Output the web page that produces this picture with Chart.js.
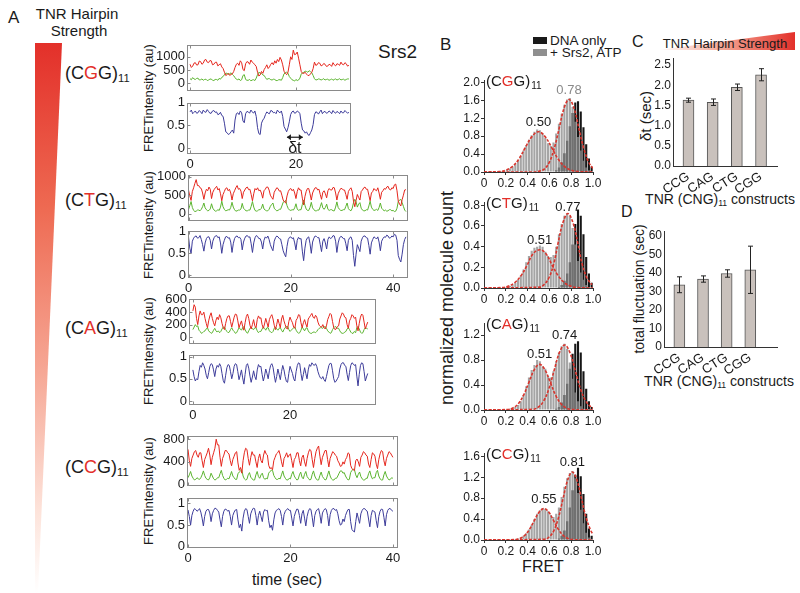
<!DOCTYPE html>
<html>
<head>
<meta charset="utf-8">
<script src="https://cdn.jsdelivr.net/npm/chart.js@4.4.0/dist/chart.umd.min.js"></script>
<style>
body { margin: 0; width: 800px; height: 593px; background: #fff; position: relative; overflow: hidden;
  font-family: "Liberation Sans", Arial, Helvetica, sans-serif; color: #1a1a1a; }
canvas { position: absolute; }
.lbl { position: absolute; white-space: nowrap; line-height: 1; }
.ctr { transform: translate(-50%, -50%); }
.rot { transform: translate(-50%, -50%) rotate(-90deg); }
.r { color: #e3302a; }
.sub { font-size: 0.62em; vertical-align: -0.25em; }
#wedgeA { position: absolute; left: 35px; top: 43px; width: 27px; height: 550px;
  clip-path: polygon(0 0, 100% 0, 11% 100%, 0 100%);
  background: linear-gradient(to bottom, #e3302a 0%, #ee6a52 30%, #f6a896 60%, #fde3da 85%, #ffffff 100%); }
#wedgeC { position: absolute; left: 658px; top: 32px; width: 137px; height: 18px;
  clip-path: polygon(0 100%, 100% 0, 100% 100%);
  background: linear-gradient(to right, #ffffff, #f3a08e 50%, #e3302a); }
.sw { position: absolute; width: 14px; height: 7px; }
</style>
</head>
<body>
<!-- panel A -->
<div class="lbl" style="left:8px;top:9px;font-size:17px">A</div>
<div class="lbl ctr" style="left:77px;top:13px;font-size:15px">TNR Hairpin</div>
<div class="lbl ctr" style="left:79px;top:30px;font-size:15px">Strength</div>
<div id="wedgeA"></div>
<div class="lbl" style="left:65px;top:64px;font-size:18px">(C<span class="r">G</span>G)<span class="sub">11</span></div>
<div class="lbl" style="left:65px;top:191px;font-size:18px">(C<span class="r">T</span>G)<span class="sub">11</span></div>
<div class="lbl" style="left:65px;top:319px;font-size:18px">(C<span class="r">A</span>G)<span class="sub">11</span></div>
<div class="lbl" style="left:65px;top:458px;font-size:18px">(C<span class="r">C</span>G)<span class="sub">11</span></div>
<div class="lbl" style="left:378px;top:42px;font-size:19px">Srs2</div>
<div class="lbl rot" style="left:148px;top:98px;font-size:13px">FRETintensity (au)</div>
<div class="lbl rot" style="left:148px;top:225px;font-size:13px">FRETintensity (au)</div>
<div class="lbl rot" style="left:148px;top:351px;font-size:13px">FRETintensity (au)</div>
<div class="lbl rot" style="left:148px;top:491px;font-size:13px">FRETintensity (au)</div>
<div class="lbl ctr" style="left:287px;top:580px;font-size:16px">time (sec)</div>

<!-- panel B -->
<div class="lbl" style="left:440px;top:36px;font-size:17px">B</div>
<div class="sw" style="left:533px;top:37px;background:#1a1a1a"></div>
<div class="lbl" style="left:550px;top:34px;font-size:13.5px">DNA only</div>
<div class="sw" style="left:533px;top:49px;background:#8f8f8f"></div>
<div class="lbl" style="left:550px;top:46px;font-size:13.5px">+ Srs2, ATP</div>
<div class="lbl rot" style="left:447px;top:298px;font-size:18px">normalized molecule count</div>
<div class="lbl ctr" style="left:543px;top:567px;font-size:16px">FRET</div>

<!-- panel C / D -->
<div class="lbl" style="left:632px;top:34px;font-size:16px">C</div>
<div id="wedgeC"></div>
<div class="lbl ctr" style="left:725px;top:43px;font-size:13px">TNR Hairpin Strength</div>
<div class="lbl rot" style="left:645px;top:116px;font-size:15px">&delta;t (sec)</div>
<div class="lbl ctr" style="left:720px;top:200px;font-size:14px">TNR (CNG)<span class="sub">11</span> constructs</div>
<div class="lbl" style="left:621px;top:204px;font-size:16px">D</div>
<div class="lbl rot" style="left:639px;top:289px;font-size:14px">total fluctuation (sec)</div>
<div class="lbl ctr" style="left:719px;top:382px;font-size:14px">TNR (CNG)<span class="sub">11</span> constructs</div>

<script>
// ---- data: single-molecule traces (one sample every 0.25 s) ----
const SAMPLE_DT = 0.25;

const redCGG = [720, 600, 650, 760, 780, 690, 700, 840, 820, 720, 760, 880, 900, 800, 780, 860, 850, 700, 720, 790,
  800, 660, 700, 740, 620, 560, 420, 300, 330, 380, 300, 340, 360, 450, 600, 720, 760, 680, 850, 780,
  520, 480, 740, 820, 800, 720, 880, 800, 760, 700, 640, 420, 280, 320, 450, 380, 520, 600, 700, 560,
  620, 720, 780, 700, 850, 760, 900, 820, 980, 880, 700, 460, 380, 330, 420, 700, 1000, 900, 1250, 1080,
  1100, 1180, 950, 700, 450, 380, 380, 420, 350, 300, 300, 360, 420, 560, 800, 680, 700, 780, 760, 660,
  680, 750, 720, 640, 650, 720, 700, 640, 780, 700, 660, 740, 720, 680, 800, 720, 700, 780, 740, 650, 680];
const greenCGG = [180, 140, 220, 170, 150, 190, 200, 130, 140, 170, 120, 150, 160, 110, 130, 160, 170, 120, 110, 150,
  150, 120, 190, 160, 230, 260, 330, 390, 380, 340, 360, 400, 340, 290, 220, 160, 140, 170, 110, 140,
  300, 330, 150, 120, 120, 150, 100, 130, 140, 110, 200, 330, 420, 390, 380, 320, 300, 220, 150, 180,
  180, 140, 130, 160, 150, 110, 110, 140, 140, 120, 220, 360, 400, 430, 380, 260, 200, 140, 120, 90,
  150, 110, 130, 200, 350, 400, 420, 460, 450, 420, 480, 440, 400, 300, 180, 130, 140, 170, 160, 130,
  150, 180, 130, 150, 160, 120, 140, 170, 120, 150, 170, 130, 150, 180, 130, 150, 160, 120, 150, 170, 170];
const fretCGG = [0.80, 0.84, 0.76, 0.79, 0.82, 0.77, 0.78, 0.83, 0.80, 0.76, 0.84, 0.80, 0.79, 0.85, 0.81, 0.77, 0.77, 0.82, 0.83, 0.79,
  0.80, 0.74, 0.75, 0.79, 0.72, 0.70, 0.55, 0.36, 0.34, 0.30, 0.32, 0.36, 0.40, 0.33, 0.62, 0.76, 0.78, 0.74, 0.82, 0.78,
  0.60, 0.56, 0.76, 0.81, 0.80, 0.77, 0.84, 0.80, 0.77, 0.82, 0.70, 0.45, 0.32, 0.30, 0.55, 0.62, 0.66, 0.74, 0.80, 0.77,
  0.76, 0.83, 0.82, 0.78, 0.79, 0.76, 0.84, 0.80, 0.78, 0.82, 0.70, 0.48, 0.42, 0.36, 0.45, 0.58, 0.74, 0.80, 0.82, 0.77,
  0.78, 0.82, 0.80, 0.76, 0.55, 0.40, 0.38, 0.33, 0.36, 0.30, 0.28, 0.34, 0.40, 0.52, 0.74, 0.80, 0.79, 0.75, 0.80, 0.84,
  0.76, 0.80, 0.81, 0.77, 0.78, 0.82, 0.80, 0.76, 0.83, 0.79, 0.77, 0.81, 0.79, 0.76, 0.82, 0.78, 0.78, 0.83, 0.80, 0.77, 0.79];

const redCTG = [640, 480, 360, 600, 700, 820, 920, 760, 760, 700, 680, 560, 390, 560, 660, 620, 720, 660, 410, 580,
  650, 700, 740, 640, 680, 540, 350, 520, 600, 680, 700, 620, 660, 560, 370, 540, 620, 700, 760, 660,
  680, 610, 410, 580, 640, 700, 720, 650, 660, 520, 350, 540, 680, 640, 700, 620, 640, 560, 420, 620,
  660, 720, 720, 640, 500, 440, 390, 580, 640, 700, 680, 610, 620, 500, 370, 320, 290, 480, 600, 660,
  680, 620, 660, 560, 410, 600, 700, 640, 640, 420, 240, 460, 600, 680, 680, 540, 370, 560, 640, 700,
  700, 640, 660, 520, 390, 580, 620, 540, 430, 620, 680, 640, 640, 710, 700, 560, 370, 540, 620, 680,
  680, 640, 640, 520, 390, 600, 660, 700, 600, 340, 190, 360, 520, 440, 370, 600, 640, 700, 720, 660,
  660, 500, 350, 560, 600, 680, 640, 620, 700, 560, 390, 580, 620, 680, 660, 720, 740, 660, 640, 700,
  680, 780, 800, 620, 340, 260, 210, 380, 500, 640, 650];
const greenCTG = [110, 220, 330, 170, 90, 60, 70, 100, 100, 80, 120, 190, 290, 160, 110, 80, 90, 130, 270, 150,
  100, 70, 80, 110, 90, 180, 340, 190, 120, 80, 90, 110, 100, 170, 310, 180, 110, 70, 80, 100,
  100, 130, 280, 150, 110, 80, 80, 100, 100, 200, 330, 180, 90, 70, 80, 110, 110, 150, 260, 130,
  100, 80, 80, 120, 200, 250, 290, 150, 110, 80, 90, 120, 120, 210, 310, 330, 360, 220, 140, 100,
  90, 110, 100, 160, 270, 130, 90, 110, 110, 250, 370, 230, 130, 90, 90, 170, 310, 160, 110, 80,
  80, 100, 100, 190, 300, 160, 120, 170, 260, 120, 90, 110, 110, 80, 80, 180, 320, 170, 120, 90,
  90, 110, 110, 200, 290, 140, 100, 80, 150, 300, 390, 320, 180, 260, 300, 150, 100, 80, 80, 110,
  100, 210, 340, 180, 120, 90, 100, 120, 90, 170, 290, 150, 110, 80, 100, 70, 80, 110, 110, 80,
  90, 60, 70, 150, 330, 370, 390, 300, 200, 100, 60];
const fretCTG = [0.88, 0.62, 0.50, 0.78, 0.85, 0.89, 0.90, 0.85, 0.86, 0.91, 0.82, 0.70, 0.55, 0.74, 0.84, 0.88, 0.88, 0.80, 0.60, 0.78,
  0.86, 0.90, 0.91, 0.86, 0.88, 0.74, 0.50, 0.70, 0.80, 0.88, 0.89, 0.85, 0.86, 0.76, 0.52, 0.72, 0.84, 0.89, 0.90, 0.86,
  0.87, 0.82, 0.58, 0.76, 0.85, 0.90, 0.91, 0.87, 0.88, 0.72, 0.52, 0.74, 0.86, 0.91, 0.89, 0.84, 0.84, 0.76, 0.60, 0.80,
  0.88, 0.85, 0.90, 0.82, 0.70, 0.62, 0.56, 0.78, 0.86, 0.90, 0.88, 0.84, 0.83, 0.70, 0.56, 0.48, 0.42, 0.66, 0.82, 0.87,
  0.88, 0.84, 0.86, 0.74, 0.58, 0.80, 0.87, 0.83, 0.84, 0.55, 0.33, 0.62, 0.80, 0.86, 0.88, 0.72, 0.50, 0.76, 0.85, 0.90,
  0.89, 0.86, 0.86, 0.70, 0.54, 0.78, 0.84, 0.74, 0.60, 0.82, 0.88, 0.84, 0.86, 0.91, 0.90, 0.78, 0.52, 0.74, 0.85, 0.89,
  0.88, 0.84, 0.84, 0.72, 0.56, 0.80, 0.86, 0.88, 0.80, 0.45, 0.20, 0.48, 0.70, 0.62, 0.54, 0.78, 0.86, 0.90, 0.90, 0.86,
  0.85, 0.68, 0.48, 0.74, 0.82, 0.88, 0.86, 0.83, 0.88, 0.76, 0.56, 0.78, 0.84, 0.88, 0.87, 0.92, 0.90, 0.85, 0.86, 0.90,
  0.88, 0.94, 0.92, 0.80, 0.45, 0.36, 0.30, 0.48, 0.70, 0.82, 0.88];

const redCAG = [420, 520, 480, 300, 200, 340, 420, 360, 360, 400, 300, 220, 150, 260, 340, 390, 300, 230, 180, 270,
  320, 280, 360, 310, 220, 150, 120, 220, 300, 340, 340, 250, 160, 240, 320, 370, 360, 260, 150, 210,
  260, 170, 110, 230, 330, 370, 300, 190, 130, 200, 280, 180, 150, 280, 340, 300, 310, 200, 140, 210,
  300, 230, 160, 280, 330, 360, 290, 190, 120, 200, 290, 220, 150, 290, 350, 260, 200, 140, 130, 250,
  320, 270, 230, 160, 140, 270, 300, 360, 350, 230, 150, 230, 280, 210, 160, 290, 320, 350, 380, 320,
  300, 350, 320, 240, 190, 170, 160, 200, 150, 130, 180, 280, 330, 380, 360, 250, 150, 120, 130, 170,
  180, 290, 340, 390, 370, 320, 310, 200, 140, 260, 300, 360, 340, 300, 320, 180, 100, 220, 320, 370,
  350, 240, 130, 190, 240];
const greenCAG = [120, 160, 200, 170, 180, 110, 90, 60, 70, 90, 100, 130, 150, 100, 80, 60, 70, 110, 140, 100,
  80, 100, 70, 90, 130, 160, 160, 120, 90, 70, 80, 120, 150, 110, 90, 60, 70, 110, 150, 130,
  110, 150, 170, 120, 80, 60, 100, 140, 160, 130, 120, 150, 150, 100, 70, 90, 90, 130, 160, 140,
  110, 150, 150, 100, 80, 70, 90, 140, 160, 130, 110, 140, 150, 110, 80, 120, 150, 170, 170, 120,
  90, 110, 130, 150, 160, 110, 80, 60, 70, 110, 160, 130, 100, 140, 150, 100, 70, 60, 60, 80,
  80, 70, 90, 120, 140, 150, 150, 140, 160, 170, 140, 100, 80, 60, 70, 120, 150, 170, 160, 140,
  140, 100, 70, 60, 60, 80, 90, 130, 150, 120, 80, 60, 60, 90, 70, 150, 170, 130, 80, 60,
  70, 120, 150, 140, 130];
const fretCAG = [0.70, 0.55, 0.45, 0.50, 0.48, 0.66, 0.80, 0.76, 0.86, 0.80, 0.72, 0.58, 0.50, 0.64, 0.78, 0.84, 0.82, 0.70, 0.55, 0.72,
  0.80, 0.76, 0.84, 0.78, 0.62, 0.46, 0.40, 0.58, 0.75, 0.82, 0.80, 0.66, 0.50, 0.62, 0.78, 0.84, 0.82, 0.66, 0.48, 0.58,
  0.70, 0.52, 0.38, 0.60, 0.80, 0.84, 0.74, 0.56, 0.42, 0.54, 0.68, 0.55, 0.48, 0.70, 0.82, 0.77, 0.78, 0.60, 0.45, 0.56,
  0.72, 0.62, 0.50, 0.68, 0.80, 0.84, 0.76, 0.58, 0.42, 0.55, 0.72, 0.60, 0.48, 0.66, 0.80, 0.70, 0.55, 0.44, 0.42, 0.62,
  0.78, 0.70, 0.62, 0.50, 0.45, 0.66, 0.80, 0.86, 0.84, 0.62, 0.46, 0.60, 0.75, 0.62, 0.50, 0.70, 0.82, 0.78, 0.86, 0.82,
  0.80, 0.84, 0.78, 0.66, 0.58, 0.52, 0.50, 0.55, 0.48, 0.44, 0.55, 0.68, 0.80, 0.85, 0.84, 0.68, 0.50, 0.42, 0.45, 0.50,
  0.55, 0.72, 0.82, 0.86, 0.86, 0.80, 0.78, 0.60, 0.46, 0.64, 0.80, 0.86, 0.84, 0.80, 0.82, 0.56, 0.34, 0.60, 0.80, 0.86,
  0.84, 0.66, 0.45, 0.54, 0.62];

const redCCG = [620, 420, 320, 460, 520, 580, 600, 520, 480, 560, 560, 420, 300, 440, 500, 560, 640, 520, 350, 480,
  560, 640, 800, 700, 700, 480, 320, 460, 520, 600, 600, 560, 540, 420, 330, 440, 500, 560, 580, 380,
  250, 300, 200, 420, 560, 640, 620, 460, 340, 480, 580, 520, 520, 400, 300, 460, 540, 420, 380, 520,
  600, 540, 520, 340, 280, 300, 260, 420, 480, 540, 560, 600, 520, 400, 310, 460, 500, 560, 480, 520,
  540, 420, 300, 440, 480, 560, 560, 420, 330, 480, 520, 400, 320, 460, 560, 620, 600, 440, 300, 460,
  580, 640, 680, 500, 350, 480, 540, 600, 600, 440, 310, 460, 520, 580, 560, 520, 500, 420, 380, 320,
  330, 400, 360, 440, 480, 560, 540, 340, 280, 260, 250, 420, 450, 400, 320, 480, 520, 580, 560, 520,
  500, 360, 300, 440, 560, 540, 500, 360, 280, 440, 540, 600, 580, 420, 330, 460, 520, 580, 560, 520, 480];
const greenCCG = [120, 170, 230, 150, 110, 80, 90, 120, 100, 90, 120, 170, 240, 160, 110, 90, 80, 120, 200, 150,
  100, 80, 90, 120, 120, 190, 250, 160, 110, 80, 90, 110, 100, 160, 230, 150, 120, 90, 90, 190,
  220, 240, 260, 150, 100, 80, 90, 170, 210, 130, 100, 80, 80, 170, 230, 140, 110, 170, 200, 120,
  90, 110, 100, 200, 230, 250, 250, 160, 120, 90, 90, 110, 100, 170, 240, 150, 110, 80, 80, 110,
  100, 180, 230, 150, 110, 80, 90, 170, 220, 130, 100, 180, 230, 140, 110, 80, 90, 180, 240, 150,
  100, 80, 80, 160, 220, 140, 110, 80, 90, 170, 240, 150, 100, 80, 80, 110, 110, 150, 200, 240,
  240, 200, 210, 150, 110, 80, 90, 210, 250, 270, 260, 170, 120, 180, 220, 140, 100, 80, 80, 110,
  110, 190, 240, 150, 100, 120, 120, 210, 250, 150, 100, 80, 80, 170, 230, 150, 110, 80, 90, 120, 110];
const fretCCG = [0.85, 0.70, 0.50, 0.72, 0.82, 0.88, 0.86, 0.82, 0.84, 0.88, 0.80, 0.66, 0.48, 0.70, 0.82, 0.86, 0.86, 0.78, 0.58, 0.76,
  0.84, 0.89, 0.88, 0.84, 0.80, 0.62, 0.46, 0.70, 0.82, 0.87, 0.86, 0.82, 0.84, 0.70, 0.50, 0.72, 0.80, 0.85, 0.86, 0.62,
  0.44, 0.52, 0.36, 0.66, 0.82, 0.88, 0.86, 0.70, 0.54, 0.76, 0.84, 0.89, 0.88, 0.72, 0.50, 0.72, 0.82, 0.70, 0.58, 0.80,
  0.86, 0.83, 0.84, 0.60, 0.44, 0.50, 0.38, 0.62, 0.78, 0.84, 0.86, 0.88, 0.84, 0.70, 0.50, 0.74, 0.82, 0.86, 0.88, 0.84,
  0.84, 0.66, 0.48, 0.70, 0.80, 0.87, 0.86, 0.72, 0.54, 0.76, 0.84, 0.66, 0.48, 0.70, 0.82, 0.88, 0.86, 0.68, 0.46, 0.72,
  0.82, 0.86, 0.88, 0.74, 0.54, 0.78, 0.84, 0.88, 0.86, 0.72, 0.48, 0.74, 0.84, 0.88, 0.88, 0.84, 0.86, 0.76, 0.60, 0.50,
  0.52, 0.64, 0.58, 0.72, 0.80, 0.86, 0.86, 0.58, 0.40, 0.36, 0.34, 0.58, 0.78, 0.66, 0.54, 0.76, 0.84, 0.88, 0.88, 0.84,
  0.82, 0.64, 0.46, 0.72, 0.84, 0.82, 0.80, 0.60, 0.44, 0.70, 0.82, 0.87, 0.86, 0.68, 0.48, 0.74, 0.84, 0.88, 0.88, 0.84, 0.82];

const intTicksCGG = [0, 500, 1000];
const intTicksCTG = [0, 500, 1000];
const intTicksCAG = [0, 200, 400, 600];
const intTicksCCG = [0, 400, 800];
const fretTicks = [0, 0.5, 1];
const timeTicks = [0, 20, 40];

// ---- data: FRET histograms (bin width 0.025, centres 0.0125 ... 0.9875) ----
const binCenters = [0.0125, 0.0375, 0.0625, 0.0875, 0.1125, 0.1375, 0.1625, 0.1875, 0.2125, 0.2375,
  0.2625, 0.2875, 0.3125, 0.3375, 0.3625, 0.3875, 0.4125, 0.4375, 0.4625, 0.4875,
  0.5125, 0.5375, 0.5625, 0.5875, 0.6125, 0.6375, 0.6625, 0.6875, 0.7125, 0.7375,
  0.7625, 0.7875, 0.8125, 0.8375, 0.8625, 0.8875, 0.9125, 0.9375, 0.9625, 0.9875];

const srsCGG = [0, 0, 0, 0, 0, 0.01, 0.02, 0.03, 0.05, 0.08, 0.12, 0.18, 0.26, 0.36, 0.48, 0.60, 0.72, 0.82, 0.90, 0.95,
  0.93, 0.86, 0.76, 0.64, 0.58, 0.66, 0.86, 1.08, 1.30, 1.50, 1.62, 1.65, 1.45, 1.12, 0.78, 0.48, 0.25, 0.10, 0.04, 0.01];
const dnaCGG = [0, 0, 0, 0, 0, 0, 0, 0, 0, 0, 0, 0, 0, 0, 0, 0, 0, 0, 0, 0,
  0, 0, 0, 0, 0, 0.01, 0.04, 0.10, 0.22, 0.42, 0.70, 1.02, 1.32, 1.55, 1.58, 1.35, 1.00, 0.62, 0.30, 0.12];
const srsCTG = [0, 0, 0, 0, 0, 0, 0.005, 0.01, 0.015, 0.02, 0.03, 0.05, 0.08, 0.12, 0.18, 0.25, 0.31, 0.36, 0.39, 0.40,
  0.41, 0.40, 0.35, 0.31, 0.30, 0.32, 0.40, 0.52, 0.62, 0.70, 0.72, 0.70, 0.58, 0.42, 0.26, 0.15, 0.08, 0.03, 0.01, 0];
const dnaCTG = [0, 0, 0, 0, 0, 0, 0, 0, 0, 0, 0, 0, 0, 0, 0, 0, 0, 0, 0, 0,
  0, 0, 0, 0, 0, 0, 0, 0.01, 0.03, 0.07, 0.14, 0.25, 0.42, 0.62, 0.76, 0.70, 0.52, 0.30, 0.14, 0.05];
const srsCAG = [0, 0, 0, 0, 0, 0, 0, 0, 0.01, 0.02, 0.03, 0.05, 0.08, 0.14, 0.24, 0.38, 0.52, 0.64, 0.72, 0.80,
  0.78, 0.70, 0.66, 0.55, 0.52, 0.62, 0.78, 0.92, 1.02, 1.06, 0.98, 0.76, 0.50, 0.28, 0.14, 0.06, 0.02, 0.01, 0, 0];
const dnaCAG = [0, 0, 0, 0, 0, 0, 0, 0, 0, 0, 0, 0, 0, 0, 0, 0, 0, 0, 0, 0,
  0, 0, 0, 0, 0, 0, 0.02, 0.05, 0.12, 0.24, 0.42, 0.66, 0.90, 1.06, 1.10, 0.92, 0.62, 0.34, 0.14, 0.05];
const srsCCG = [0, 0, 0, 0, 0, 0, 0, 0, 0, 0, 0.01, 0.02, 0.03, 0.05, 0.08, 0.13, 0.20, 0.29, 0.40, 0.50,
  0.57, 0.61, 0.60, 0.55, 0.48, 0.44, 0.50, 0.62, 0.82, 1.02, 1.18, 1.28, 1.32, 1.18, 0.90, 0.58, 0.32, 0.14, 0.05, 0.01];
const dnaCCG = [0, 0, 0, 0, 0, 0, 0, 0, 0, 0, 0, 0, 0, 0, 0, 0, 0, 0, 0, 0,
  0, 0, 0, 0, 0, 0, 0, 0.03, 0.08, 0.18, 0.36, 0.62, 0.95, 1.25, 1.38, 1.22, 0.88, 0.50, 0.22, 0.08];

// gaussian fits: [FRET, count]
const fitCGGlow = [[0, 0], [0.14, 0.01], [0.20, 0.04], [0.26, 0.12], [0.32, 0.29], [0.38, 0.55], [0.44, 0.79], [0.50, 0.90],
  [0.56, 0.79], [0.62, 0.55], [0.68, 0.29], [0.74, 0.12], [0.80, 0.04], [0.86, 0.01], [1.0, 0]];
const fitCGGhigh = [[0, 0], [0.45, 0], [0.51, 0.02], [0.555, 0.07], [0.60, 0.22], [0.645, 0.53], [0.69, 0.98], [0.735, 1.43],
  [0.78, 1.62], [0.825, 1.43], [0.87, 0.98], [0.915, 0.53], [0.96, 0.22], [1.0, 0.08]];
const fitCTGlow = [[0, 0], [0.165, 0.004], [0.22, 0.016], [0.28, 0.05], [0.34, 0.12], [0.395, 0.22], [0.45, 0.33], [0.51, 0.37],
  [0.57, 0.33], [0.625, 0.22], [0.68, 0.12], [0.74, 0.05], [0.80, 0.016], [0.855, 0.004], [1.0, 0]];
const fitCTGhigh = [[0, 0], [0.51, 0.008], [0.55, 0.032], [0.595, 0.097], [0.64, 0.234], [0.68, 0.437], [0.725, 0.635], [0.77, 0.72],
  [0.815, 0.635], [0.86, 0.437], [0.90, 0.234], [0.945, 0.097], [0.99, 0.032]];
const fitCAGlow = [[0, 0], [0.216, 0.008], [0.265, 0.032], [0.314, 0.099], [0.363, 0.237], [0.412, 0.443], [0.461, 0.644], [0.51, 0.73],
  [0.559, 0.644], [0.608, 0.443], [0.657, 0.237], [0.706, 0.099], [0.755, 0.032], [0.804, 0.008], [1.0, 0]];
const fitCAGhigh = [[0, 0], [0.449, 0.011], [0.4975, 0.046], [0.546, 0.14], [0.5945, 0.338], [0.643, 0.631], [0.6915, 0.918], [0.74, 1.04],
  [0.7885, 0.918], [0.837, 0.631], [0.8855, 0.338], [0.934, 0.14], [0.9825, 0.046], [1.0, 0.03]];
const fitCCGlow = [[0, 0], [0.28, 0.007], [0.325, 0.026], [0.37, 0.081], [0.415, 0.195], [0.46, 0.364], [0.505, 0.53], [0.55, 0.60],
  [0.595, 0.53], [0.64, 0.364], [0.685, 0.195], [0.73, 0.081], [0.775, 0.026], [0.82, 0.007], [1.0, 0]];
const fitCCGhigh = [[0, 0], [0.555, 0.014], [0.5975, 0.057], [0.64, 0.176], [0.6825, 0.422], [0.725, 0.789], [0.7675, 1.147], [0.81, 1.30],
  [0.8525, 1.147], [0.895, 0.789], [0.9375, 0.422], [0.98, 0.176], [1.0, 0.11]];

const peaksCGG = [0.50, 0.78];
const peaksCTG = [0.51, 0.77];
const peaksCAG = [0.51, 0.74];
const peaksCCG = [0.55, 0.81];

const histXTicks = [0, 0.2, 0.4, 0.6, 0.8, 1.0];
const histYTicksCGG = [0, 0.4, 0.8, 1.2, 1.6, 2.0];
const histYTicksCTG = [0, 0.2, 0.4, 0.6, 0.8];
const histYTicksCAG = [0, 0.4, 0.8, 1.2];
const histYTicksCCG = [0, 0.4, 0.8, 1.2, 1.6];

// ---- data: bar panels C and D ----
const constructs = ['CCG', 'CAG', 'CTG', 'CGG'];
const dtMean = [1.63, 1.58, 1.95, 2.26];
const dtErr = [0.05, 0.08, 0.08, 0.15];
const dtTicks = [0, 0.5, 1.0, 1.5, 2.0, 2.5];
const flucMean = [33.7, 36.8, 39.8, 41.8];
const flucErr = [4.3, 1.7, 2.0, 12.8];
const flucTicks = [0, 10, 20, 30, 40, 50, 60];

// ---------------------------------------------------------------
const FONT = '"Liberation Sans", Arial, Helvetica, sans-serif';
Chart.defaults.font.family = FONT;
Chart.defaults.color = '#1a1a1a';

const RED = '#e5261d', GREEN = '#5bb42f', BLUE = '#3d3c9a', INK = '#1a1a1a';

// canvas is placed so the chart area lands on box (page pixels)
function makeChart(box, pad, axisW, axisH, config) {
  const c = document.createElement('canvas');
  const w = box.r - box.l + pad.l + axisW + pad.r;
  const h = box.b - box.t + pad.t + pad.b + axisH;
  c.width = w; c.height = h;
  c.style.width = w + 'px'; c.style.height = h + 'px';
  c.style.left = (box.l - pad.l - axisW) + 'px';
  c.style.top = (box.t - pad.t) + 'px';
  document.body.appendChild(c);
  const o = config.options;
  o.responsive = false;
  o.animation = false;
  o.devicePixelRatio = 1;
  o.layout = { autoPadding: false, padding: { left: pad.l, right: pad.r, top: pad.t, bottom: pad.b } };
  o.plugins = Object.assign({ legend: { display: false }, tooltip: { enabled: false } }, o.plugins || {});
  return new Chart(c, config);
}

const fixTicks = vals => s => { s.ticks = vals.map(v => ({ value: v })); };
const toPts = arr => arr.map((v, i) => ({ x: i * SAMPLE_DT, y: v }));
const pairPts = arr => arr.map(p => ({ x: p[0], y: p[1] }));

// grey box round the trace panels, with short inward tick marks
const framePlugin = {
  id: 'frame',
  afterDatasetsDraw(chart) {
    const a = chart.chartArea, ctx = chart.ctx;
    const L = Math.round(a.left) + 0.5, T = Math.round(a.top) + 0.5;
    const R = Math.round(a.right) - 0.5, B = Math.round(a.bottom) - 0.5;
    ctx.save();
    ctx.strokeStyle = '#8a8a8a';
    ctx.lineWidth = 1;
    ctx.strokeRect(L, T, R - L, B - T);
    ctx.beginPath();
    chart.scales.y.ticks.forEach(t => {
      const py = Math.round(chart.scales.y.getPixelForValue(t.value)) + 0.5;
      if (py > T + 1 && py < B - 1) { ctx.moveTo(L, py); ctx.lineTo(L + 3, py); }
    });
    const xs = chart.scales.x;
    timeTicks.forEach(v => {
      if (v <= xs.min || v >= xs.max) return;
      const px = Math.round(xs.getPixelForValue(v)) + 0.5;
      ctx.moveTo(px, T); ctx.lineTo(px, T + 3);
      ctx.moveTo(px, B); ctx.lineTo(px, B - 3);
    });
    ctx.stroke();
    ctx.restore();
  }
};

/*
 * panel A : traces
 */
const traceLayout = {
  CGG: { l: 187, r: 351, it: 43, ib: 97, ft: 101, fb: 154, x: [-0.57, 30.4], iy: [-290, 1450], fy: [-0.13, 1.0] },
  CTG: { l: 188, r: 408, it: 173, ib: 227, ft: 229, fb: 278, x: [-0.1, 42.9], iy: [-200, 1050], fy: [-0.07, 1.02] },
  CAG: { l: 189, r: 376, it: 297, ib: 350, ft: 353, fb: 405, x: [-0.8, 37.7], iy: [-115, 615], fy: [-0.09, 1.04] },
  CCG: { l: 187, r: 398, it: 434, ib: 492, ft: 496, fb: 548, x: [-0.2, 41], iy: [-30, 860], fy: [-0.03, 1.13] }
};

const deltaTPlugin = {
  id: 'deltaT',
  afterDraw(chart) {
    const { ctx, scales: { x, y } } = chart;
    const x1 = x.getPixelForValue(18.3), x2 = x.getPixelForValue(21.3), yy = y.getPixelForValue(0.24);
    ctx.save();
    ctx.strokeStyle = INK; ctx.fillStyle = INK; ctx.lineWidth = 1.2;
    ctx.beginPath(); ctx.moveTo(x1, yy); ctx.lineTo(x2, yy); ctx.stroke();
    [[x1, 1], [x2, -1]].forEach(([px, d]) => {
      ctx.beginPath(); ctx.moveTo(px, yy); ctx.lineTo(px + 4 * d, yy - 3); ctx.lineTo(px + 4 * d, yy + 3); ctx.closePath(); ctx.fill();
    });
    ctx.font = '16px ' + FONT; ctx.textAlign = 'center'; ctx.textBaseline = 'middle';
    ctx.fillText('\u03b4t', x.getPixelForValue(19.8), y.getPixelForValue(0.0));
    ctx.restore();
  }
};

function traceCharts(L, red, green, fret, intTicks, extra) {
  const tickFont = { size: 13 };
  const noGrid = { display: false, drawTicks: false };
  makeChart({ l: L.l, r: L.r, t: L.it, b: L.ib }, { l: 0, t: 8, r: 4, b: 4 }, 36, 0, {
    type: 'line',
    data: { datasets: [
      { data: toPts(red), borderColor: RED, borderWidth: 1, pointRadius: 0, tension: 0 },
      { data: toPts(green), borderColor: GREEN, borderWidth: 1, pointRadius: 0, tension: 0 }
    ] },
    options: {
      parsing: false,
      scales: {
        x: { type: 'linear', min: L.x[0], max: L.x[1], display: false },
        y: { min: L.iy[0], max: L.iy[1], afterFit: s => { s.width = 36; }, afterBuildTicks: fixTicks(intTicks),
          grid: noGrid, border: { display: false },
          ticks: { font: tickFont, padding: 2, autoSkip: false, callback: v => String(v) } }
      }
    },
    plugins: [framePlugin]
  });
  makeChart({ l: L.l, r: L.r, t: L.ft, b: L.fb }, { l: 0, t: 8, r: 12, b: 2 }, 36, 18, {
    type: 'line',
    data: { datasets: [
      { data: toPts(fret), borderColor: BLUE, borderWidth: 1, pointRadius: 0, tension: 0 }
    ] },
    options: {
      parsing: false,
      scales: {
        x: { type: 'linear', min: L.x[0], max: L.x[1], afterFit: s => { s.height = 18; },
          afterBuildTicks: fixTicks(timeTicks.filter(t => t <= L.x[1])),
          grid: noGrid, border: { display: false },
          ticks: { font: tickFont, padding: 3, maxRotation: 0, autoSkip: false, callback: v => String(v) } },
        y: { min: L.fy[0], max: L.fy[1], afterFit: s => { s.width = 36; }, afterBuildTicks: fixTicks(fretTicks),
          grid: noGrid, border: { display: false },
          ticks: { font: tickFont, padding: 2, autoSkip: false, callback: v => String(v) } }
      }
    },
    plugins: extra ? [framePlugin, extra] : [framePlugin]
  });
}

traceCharts(traceLayout.CGG, redCGG, greenCGG, fretCGG, intTicksCGG, deltaTPlugin);
traceCharts(traceLayout.CTG, redCTG, greenCTG, fretCTG, intTicksCTG);
traceCharts(traceLayout.CAG, redCAG, greenCAG, fretCAG, intTicksCAG);
traceCharts(traceLayout.CCG, redCCG, greenCCG, fretCCG, intTicksCCG);

/*
 * panel B : histograms
 */
const histLayout = {
  CGG: { t: 80, b: 172, yMax: 2.05 },
  CTG: { t: 202, b: 288, yMax: 0.83 },
  CAG: { t: 323, b: 410, yMax: 1.39 },
  CCG: { t: 453, b: 540, yMax: 1.66 }
};
const HIST_L = 484, HIST_R = 593;

function drawConstruct(ctx, mid, x, y) {
  const parts = [['(C', INK], [mid, '#e3302a'], ['G)', INK]];
  ctx.textAlign = 'left'; ctx.textBaseline = 'middle';
  parts.forEach(([t, col]) => {
    ctx.font = '15px ' + FONT; ctx.fillStyle = col;
    ctx.fillText(t, x, y); x += ctx.measureText(t).width;
  });
  ctx.font = '10px ' + FONT; ctx.fillStyle = INK;
  ctx.fillText('11', x + 1, y + 4);
}

function histChart(L, mid, srs, dna, fitLow, fitHigh, peaks, yTicks, peakColors) {
  const fitStyle = { type: 'line', borderColor: '#d9352d', borderWidth: 1.6, borderDash: [3, 1.5], pointRadius: 0, tension: 0.4, order: 0 };
  const fits = [fitLow, fitHigh];
  const labelPlugin = {
    id: 'histLabels',
    afterDraw(chart) {
      const { ctx, scales: { x, y }, chartArea: a } = chart;
      ctx.save();
      ctx.font = '13px ' + FONT; ctx.textAlign = 'center'; ctx.textBaseline = 'bottom';
      peaks.forEach((p, i) => {
        const top = Math.max(...fits[i].map(q => q[1]));
        ctx.fillStyle = peakColors[i];
        ctx.fillText(p.toFixed(2), x.getPixelForValue(p), Math.max(y.getPixelForValue(top) - 3, a.top + 12));
      });
      drawConstruct(ctx, mid, a.left + 2, a.top + 2);
      ctx.restore();
    }
  };
  makeChart({ l: HIST_L, r: HIST_R, t: L.t, b: L.b }, { l: 0, t: 8, r: 10, b: 2 }, 32, 16, {
    type: 'bar',
    data: { datasets: [
      Object.assign({ data: pairPts(fitLow) }, fitStyle),
      Object.assign({ data: pairPts(fitHigh) }, fitStyle),
      { data: binCenters.map((c, i) => ({ x: c, y: srs[i] })), backgroundColor: 'rgba(140,140,140,0.78)',
        grouped: false, barPercentage: 0.78, categoryPercentage: 1, order: 1 },
      { data: binCenters.map((c, i) => ({ x: c, y: dna[i] })), backgroundColor: '#161616',
        grouped: false, barPercentage: 0.78, categoryPercentage: 1, order: 2 }
    ] },
    options: {
      parsing: false,
      scales: {
        x: { type: 'linear', min: 0, max: 1, offset: false, afterFit: s => { s.height = 16; },
          afterBuildTicks: fixTicks(histXTicks),
          grid: { display: true, drawOnChartArea: false, tickLength: 3, color: '#333', offset: false },
          border: { display: true, color: '#333' },
          ticks: { font: { size: 12 }, padding: 1, maxRotation: 0, autoSkip: false, callback: v => v === 0 ? '0' : v.toFixed(1) } },
        y: { min: 0, max: L.yMax, afterFit: s => { s.width = 32; }, afterBuildTicks: fixTicks(yTicks),
          grid: { display: true, drawOnChartArea: false, tickLength: 3, color: '#333' },
          border: { display: true, color: '#333' },
          ticks: { font: { size: 12 }, padding: 1, autoSkip: false, callback: v => v.toFixed(1) } }
      }
    },
    plugins: [labelPlugin]
  });
}

histChart(histLayout.CGG, 'G', srsCGG, dnaCGG, fitCGGlow, fitCGGhigh, peaksCGG, histYTicksCGG, [INK, '#8a8a8a']);
histChart(histLayout.CTG, 'T', srsCTG, dnaCTG, fitCTGlow, fitCTGhigh, peaksCTG, histYTicksCTG, [INK, INK]);
histChart(histLayout.CAG, 'A', srsCAG, dnaCAG, fitCAGlow, fitCAGhigh, peaksCAG, histYTicksCAG, [INK, INK]);
histChart(histLayout.CCG, 'C', srsCCG, dnaCCG, fitCCGlow, fitCCGhigh, peaksCCG, histYTicksCCG, [INK, INK]);

/*
 * panels C and D : bar charts with error bars
 */
function barPanel(box, xr, yMax, yTicks, means, errs, fmt) {
  const errPlugin = {
    id: 'errBars',
    afterDatasetsDraw(chart) {
      const { ctx, scales: { x, y } } = chart;
      ctx.save();
      ctx.strokeStyle = '#222'; ctx.lineWidth = 1;
      means.forEach((m, i) => {
        const px = Math.round(x.getPixelForValue(i)) + 0.5;
        const y1 = y.getPixelForValue(m + errs[i]), y2 = y.getPixelForValue(m - errs[i]);
        ctx.beginPath();
        ctx.moveTo(px, y1); ctx.lineTo(px, y2);
        ctx.moveTo(px - 2.5, y1); ctx.lineTo(px + 2.5, y1);
        ctx.moveTo(px - 2.5, y2); ctx.lineTo(px + 2.5, y2);
        ctx.stroke();
      });
      ctx.restore();
    }
  };
  makeChart(box, { l: 0, t: 8, r: 6, b: 0 }, 28, 30, {
    type: 'bar',
    data: { datasets: [{
      data: means.map((v, i) => ({ x: i, y: v })),
      backgroundColor: '#c9c1bc', borderColor: '#555', borderWidth: 1, barThickness: 11
    }] },
    options: {
      parsing: false,
      scales: {
        x: { type: 'linear', min: xr[0], max: xr[1], offset: false, afterFit: s => { s.height = 30; },
          afterBuildTicks: fixTicks(constructs.map((c, i) => i)),
          grid: { display: false, drawTicks: false }, border: { display: true, color: '#333' },
          ticks: { font: { size: 13 }, padding: 3, minRotation: 32, maxRotation: 32, autoSkip: false, callback: v => constructs[v] } },
        y: { min: 0, max: yMax, afterFit: s => { s.width = 28; }, afterBuildTicks: fixTicks(yTicks),
          grid: { display: false, drawTicks: false }, border: { display: true, color: '#333' },
          ticks: { font: { size: 12 }, padding: 2, autoSkip: false, callback: fmt } }
      }
    },
    plugins: [errPlugin]
  });
}

barPanel({ l: 673, r: 777, t: 57, b: 166 }, [-0.64, 3.66], 2.67, dtTicks, dtMean, dtErr, v => v.toFixed(1));
barPanel({ l: 664, r: 777, t: 230, b: 347 }, [-0.65, 4.13], 62.7, flucTicks, flucMean, flucErr, v => String(v));
</script>
</body>
</html>
